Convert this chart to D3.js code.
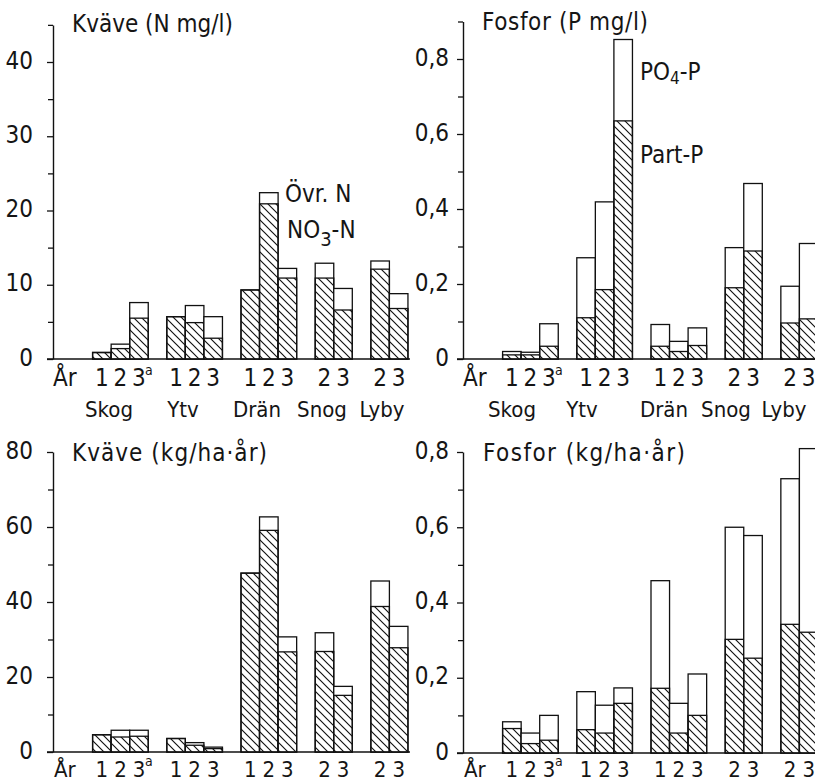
<!DOCTYPE html>
<html>
<head>
<meta charset="utf-8">
<script src="https://cdn.jsdelivr.net/npm/d3@7"></script>
<style>
  html, body { margin: 0; padding: 0; background: #fff; }
  svg { display: block; }
  text { font-family: "DejaVu Sans Condensed", "DejaVu Sans", sans-serif; font-stretch: condensed; fill: #151515; }
</style>
</head>
<body>
<svg id="chart" width="815" height="784"></svg>
<script>
// Catchments and the sampling year of each bar
const groups = ["Skog", "Ytv", "Drän", "Snog", "Lyby"];
const barGroup = ["Skog", "Skog", "Skog", "Ytv", "Ytv", "Ytv", "Drän", "Drän", "Drän", "Snog", "Snog", "Lyby", "Lyby"];
const barYear  = ["1", "2", "3ª", "1", "2", "3", "1", "2", "3", "2", "3", "2", "3"];
const yearAxisLabel = "År";

// Nitrogen concentration, N mg/l
const nConcNO3 = [0.85, 1.4, 5.5, 5.7, 4.9, 2.8, 9.3, 20.9, 10.9, 10.9, 6.6, 12.1, 6.8];
const nConcTot = [0.9, 2.0, 7.6, 5.7, 7.2, 5.7, 9.3, 22.4, 12.2, 12.9, 9.5, 13.2, 8.8];

// Phosphorus concentration, P mg/l
const pConcPart = [0.011, 0.011, 0.034, 0.11, 0.185, 0.635, 0.034, 0.020, 0.036, 0.19, 0.288, 0.096, 0.107];
const pConcTot  = [0.020, 0.018, 0.094, 0.27, 0.419, 0.852, 0.092, 0.047, 0.083, 0.297, 0.468, 0.194, 0.308];

// Nitrogen load, kg/ha·år
const nLoadNO3 = [4.6, 4.0, 4.2, 3.6, 1.8, 0.9, 47.7, 59.1, 26.7, 26.8, 15.1, 38.8, 27.8];
const nLoadTot = [4.6, 5.8, 5.8, 3.6, 2.5, 1.3, 47.7, 62.7, 30.7, 31.8, 17.5, 45.6, 33.5];

// Phosphorus load, kg/ha·år
const pLoadPart = [0.065, 0.025, 0.034, 0.062, 0.053, 0.132, 0.172, 0.053, 0.10, 0.302, 0.252, 0.342, 0.321];
const pLoadTot  = [0.083, 0.053, 0.10, 0.163, 0.127, 0.173, 0.458, 0.132, 0.21, 0.60, 0.578, 0.729, 0.809];

// Axis ticks
const nConcMajor = [0, 10, 20, 30, 40], nConcMinor = [5, 15, 25, 35, 45];
const pConcMajor = [0, 0.2, 0.4, 0.6, 0.8], pConcMinor = [0.1, 0.3, 0.5, 0.7, 0.9];
const nLoadMajor = [0, 20, 40, 60, 80], nLoadMinor = [10, 30, 50, 70];
const pLoadMajor = [0, 0.2, 0.4, 0.6, 0.8], pLoadMinor = [0.1, 0.3, 0.5, 0.7];

// Panel titles
const titles = ["Kväve (N mg/l)", "Fosfor (P mg/l)", "Kväve (kg/ha·år)", "Fosfor (kg/ha·år)"];

// Slot keys: year label, gap, then groups separated by one empty slot
const slotKeys = [yearAxisLabel, "_g0"];
barGroup.forEach((g, i) => {
  if (i > 0 && barGroup[i - 1] !== g) slotKeys.push("_g" + slotKeys.length);
  slotKeys.push(g + "|" + barYear[i]);
});
const barKeys = barGroup.map((g, i) => g + "|" + barYear[i]);

const locale = d3.formatLocale({ decimal: ",", thousands: " ", grouping: [3], currency: ["", " kr"] });
const fmt = locale.format(".1~f");

const svg = d3.select("#chart");
const defs = svg.append("defs");
defs.append("pattern")
  .attr("id", "hatch")
  .attr("patternUnits", "userSpaceOnUse")
  .attr("width", 8).attr("height", 8)
  .append("path")
  .attr("d", "M-1,-1L9,9M-1,7L1,9M7,-1L9,1")
  .attr("stroke", "#111").attr("stroke-width", 1.15).attr("fill", "none");

const panels = [
  { axisX: 53, y0: 359, top: 359 - 45 * 7.425, max: 45, major: nConcMajor, minor: nConcMinor, low: nConcNO3, tot: nConcTot,
    title: titles[0], tx: 72, ty: 32, tlen: 161, pad: 14, right: 410, labelY: 386, labelSize: 24, groupY: 417,
    groupDx: [56, 130, 204, 269, 329] },
  { axisX: 463, y0: 359, top: 359 - 0.9 * 375, max: 0.9, major: pConcMajor, minor: pConcMinor, low: pConcPart, tot: pConcTot,
    title: titles[1], tx: 482, ty: 29.5, tlen: 166, pad: 8, right: 815, labelY: 386, labelSize: 24, groupY: 417,
    groupDx: [49, 119, 201, 263, 321] },
  { axisX: 53, y0: 752, top: 452, max: 80, major: nLoadMajor, minor: nLoadMinor, low: nLoadNO3, tot: nLoadTot,
    title: titles[2], tx: 72, ty: 461, tlen: 195, pad: 14, right: 410, labelY: 777, labelSize: 22 },
  { axisX: 463, y0: 753, top: 452, max: 0.8, major: pLoadMajor, minor: pLoadMinor, low: pLoadPart, tot: pLoadTot,
    title: titles[3], tx: 483, ty: 461, tlen: 202, pad: 8, right: 815, labelY: 777, labelSize: 22 }
];

panels.forEach(p => {
  const g = svg.append("g");
  const y = d3.scaleLinear().domain([0, p.max]).range([p.y0, p.top]);
  const x = d3.scaleBand().domain(slotKeys)
    .range([p.axisX + 2.5, p.axisX + 2.5 + slotKeys.length * 18.55])
    .paddingInner(0).paddingOuter(0);

  // Baseline
  g.append("line")
    .attr("x1", p.axisX - 6).attr("x2", p.right)
    .attr("y1", y(0)).attr("y2", y(0))
    .attr("stroke", "#111").attr("stroke-width", 1.3);

  // Bars: outlined total, hatched lower component
  const bars = g.append("g");
  barKeys.forEach((k, i) => {
    bars.append("rect")
      .attr("x", x(k)).attr("width", x.bandwidth())
      .attr("y", y(p.tot[i])).attr("height", y(0) - y(p.tot[i]))
      .attr("fill", "#fff").attr("stroke", "#111").attr("stroke-width", 1.3);
    bars.append("rect")
      .attr("x", x(k)).attr("width", x.bandwidth())
      .attr("y", y(p.low[i])).attr("height", y(0) - y(p.low[i]))
      .attr("fill", "url(#hatch)").attr("stroke", "#111").attr("stroke-width", 1.3);
  });

  // Y axis with labelled major ticks and unlabelled minor ticks
  const axisG = g.append("g").attr("transform", `translate(${p.axisX},0)`)
    .call(d3.axisLeft(y).tickValues(p.major).tickSize(6).tickSizeOuter(0).tickPadding(p.pad).tickFormat(fmt));
  axisG.select(".domain").attr("stroke", "#111").attr("stroke-width", 1.4);
  axisG.selectAll(".tick line").attr("stroke", "#111").attr("stroke-width", 1.3);
  axisG.selectAll(".tick text")
    .attr("font-size", 24).attr("font-family", null).attr("fill", "#151515").attr("dy", "0.25em");
  const minorG = g.append("g").attr("transform", `translate(${p.axisX},0)`)
    .call(d3.axisLeft(y).tickValues(p.minor).tickSize(5).tickSizeOuter(0).tickFormat(""));
  minorG.select(".domain").remove();
  minorG.selectAll(".tick line").attr("stroke", "#111").attr("stroke-width", 1.3);

  // Title
  g.append("text")
    .attr("x", p.tx).attr("y", p.ty)
    .attr("font-size", 24)
    .attr("textLength", p.tlen).attr("lengthAdjust", "spacing")
    .text(p.title);

  // Year labels under the bars
  const xl = g.append("g").attr("font-size", p.labelSize).attr("text-anchor", "middle");
  xl.append("text")
    .attr("x", x(yearAxisLabel) + x.bandwidth() / 2)
    .attr("y", p.labelY)
    .text(yearAxisLabel);
  barKeys.forEach((k, i) => {
    const lab = barYear[i];
    const cx = x(k) + x.bandwidth() / 2;
    xl.append("text").attr("x", cx).attr("y", p.labelY).text(lab.replace("ª", ""));
    if (lab.includes("ª")) {
      g.append("text").attr("x", cx + 6).attr("y", p.labelY - 11)
        .attr("font-size", 14).text("a");
    }
  });

  // Catchment names
  if (p.groupDx) {
    const gl = g.append("g").attr("font-size", 22).attr("text-anchor", "middle");
    groups.forEach((name, j) => {
      gl.append("text").attr("x", p.axisX + p.groupDx[j]).attr("y", p.groupY).text(name);
    });
  }
});

// Component labels beside the tallest bars
const leg = svg.append("g").attr("font-size", 24);
leg.append("text").attr("x", 285).attr("y", 202).text("Övr. N");
const no3 = leg.append("text").attr("x", 287).attr("y", 238);
no3.append("tspan").text("NO");
no3.append("tspan").attr("dy", 8).attr("font-size", 20).text("3");
no3.append("tspan").attr("dy", -8).text("-N");
const po4 = leg.append("text").attr("x", 640).attr("y", 80);
po4.append("tspan").text("PO");
po4.append("tspan").attr("dy", 4).attr("font-size", 17).text("4");
po4.append("tspan").attr("dy", -4).text("-P");
leg.append("text").attr("x", 640).attr("y", 163).text("Part-P");
</script>
</body>
</html>
